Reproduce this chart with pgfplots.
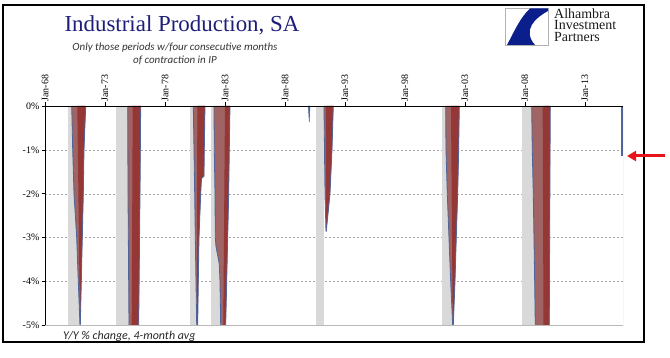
\documentclass[border=0pt]{standalone}
\usepackage{pgfplots}
\pgfplotsset{compat=1.18}
\usepackage{pgfplotstable}
\usepackage{fontspec}
\setmainfont{Liberation Serif}
\newfontfamily\calfont{Carlito}
\usetikzlibrary{arrows.meta}
\definecolor{rgray}{HTML}{D9D9D9}
\definecolor{mauve}{HTML}{A06464}
\definecolor{dred}{HTML}{953735}
\definecolor{bline}{HTML}{50649A}
\definecolor{navy}{HTML}{1E1E78}
\definecolor{logoblue}{HTML}{0A1E8C}
\definecolor{arrred}{HTML}{E8141B}

% episode outlines (x = year, y = Y/Y % change, clipped at -5)
\pgfplotstableread{
x y
1970.225 0
1970.308 -1
1970.417 -2
1970.642 -3
1970.775 -4
1970.917 -5
1970.942 -5
1971.025 -4
1971.108 -3
1971.192 -2
1971.250 -1
1971.392 0
}\epAo
\pgfplotstableread{
x y
1970.692 0
1970.917 -5
1970.942 -5
1971.025 -4
1971.108 -3
1971.192 -2
1971.250 -1
1971.392 0
}\epAd
\pgfplotstableread{
x y
1974.892 0
1974.917 -2
1975.000 -5
1975.808 -5
1975.917 -2
1975.975 0
}\epBo
\pgfplotstableread{
x y
1975.308 0
1975.225 -5
1975.808 -5
1975.917 -2
1975.975 0
}\epBd
\pgfplotstableread{
x y
1980.358 0
1980.417 -1
1980.475 -2
1980.525 -3
1980.583 -4
1980.642 -5
1980.725 -5
1980.775 -4
1980.833 -3
1980.975 -2
1981.042 -1.65
1981.250 -1.6
1981.275 -1
1981.333 0
}\epCo
\pgfplotstableread{
x y
1980.692 0
1980.667 -5
1980.725 -5
1980.775 -4
1980.833 -3
1980.975 -2
1981.042 -1.65
1981.250 -1.6
1981.275 -1
1981.333 0
}\epCd
\pgfplotstableread{
x y
1982.083 0
1982.108 -1
1982.167 -2
1982.192 -3
1982.250 -3.2
1982.525 -3.6
1982.583 -4
1982.642 -5
1983.058 -5
1983.142 -4
1983.225 -3
1983.308 -2
1983.358 -1
1983.417 0
}\epDo
\pgfplotstableread{
x y
1983.000 0
1982.858 -5
1983.058 -5
1983.142 -4
1983.225 -3
1983.308 -2
1983.358 -1
1983.417 0
}\epDd
\pgfplotstableread{
x y
1989.942 0
1990.025 -0.36
1990.083 0
}\epEa
\pgfplotstableread{
x y
1991.250 0
1991.292 -1
1991.333 -2
1991.417 -2.85
1991.442 -2.85
1991.750 -2
1991.917 -1
1992.025 0
}\epEo
\pgfplotstableread{
x y
1991.417 0
1991.417 -2.85
1991.442 -2.85
1991.750 -2
1991.917 -1
1992.025 0
}\epEd
\pgfplotstableread{
x y
2001.392 0
2001.417 -1
2001.525 -2
2001.667 -3
2001.808 -4
2001.975 -5
2002.025 -5
2002.167 -4
2002.275 -3
2002.392 -2
2002.475 -1
2002.525 0
}\epFo
\pgfplotstableread{
x y
2001.833 0
2001.975 -5
2002.025 -5
2002.167 -4
2002.275 -3
2002.392 -2
2002.475 -1
2002.525 0
}\epFd
\pgfplotstableread{
x y
2008.558 0
2008.608 -1
2008.692 -2
2008.750 -3
2008.808 -4
2008.858 -5
2010.025 -5
2010.108 0
}\epGo
\pgfplotstableread{
x y
2009.475 0
2009.542 -5
2010.025 -5
2010.108 0
}\epGd

\begin{document}
\begin{tikzpicture}
\useasboundingbox (0bp,0bp) rectangle (670bp,358bp);
\begin{axis}[
  at={(45bp,32.5bp)}, anchor=south west,
  scale only axis, width=578bp, height=219.5bp,
  xmin=1968, xmax=2016.17, ymin=-5, ymax=0,
  axis x line*=top, axis y line*=left,
  axis line style={black, line width=0.8bp, -},
  tick align=outside, major tick length=3.5bp,
  tick style={black, line width=0.6bp},
  xtick={1968,1973,1978,1983,1988,1993,1998,2003,2008,2013},
  xticklabels={Jan-68,Jan-73,Jan-78,Jan-83,Jan-88,Jan-93,Jan-98,Jan-03,Jan-08,Jan-13},
  xticklabel style={rotate=90, anchor=west, font=\fontsize{10}{12}\selectfont, inner sep=1bp},
  ytick={-5,-4,-3,-2,-1,0},
  yticklabels={-5\%,-4\%,-3\%,-2\%,-1\%,0\%},
  yticklabel style={font=\fontsize{10}{12}\selectfont, inner sep=2bp},
  ymajorgrids, grid style={gray!70, dash pattern=on 2bp off 2bp, line width=0.5bp},
  minor tick num=0,
]
% recession bars
\addplot[fill=rgray, draw=none] coordinates {(1969.92,0)(1969.92,-5)(1970.92,-5)(1970.92,0)};
\addplot[fill=rgray, draw=none] coordinates {(1973.92,0)(1973.92,-5)(1975.17,-5)(1975.17,0)};
\addplot[fill=rgray, draw=none] coordinates {(1980.08,0)(1980.08,-5)(1980.58,-5)(1980.58,0)};
\addplot[fill=rgray, draw=none] coordinates {(1981.83,0)(1981.83,-5)(1982.90,-5)(1982.90,0)};
\addplot[fill=rgray, draw=none] coordinates {(1990.56,0)(1990.56,-5)(1991.25,-5)(1991.25,0)};
\addplot[fill=rgray, draw=none] coordinates {(2001.11,0)(2001.11,-5)(2001.90,-5)(2001.90,0)};
\addplot[fill=rgray, draw=none] coordinates {(2007.78,0)(2007.78,-5)(2009.50,-5)(2009.50,0)};
% contraction areas
\addplot[fill=mauve, draw=none] table {\epAo};
\addplot[fill=dred, draw=none] table {\epAd};
\addplot[bline, line width=0.8bp] table {\epAo};
\addplot[fill=mauve, draw=none] table {\epBo};
\addplot[fill=dred, draw=none] table {\epBd};
\addplot[bline, line width=0.8bp] table {\epBo};
\addplot[fill=mauve, draw=none] table {\epCo};
\addplot[fill=dred, draw=none] table {\epCd};
\addplot[bline, line width=0.8bp] table {\epCo};
\addplot[fill=mauve, draw=none] table {\epDo};
\addplot[fill=dred, draw=none] table {\epDd};
\addplot[bline, line width=0.8bp] table {\epDo};
\addplot[fill=mauve, draw=none] table {\epEo};
\addplot[fill=dred, draw=none] table {\epEd};
\addplot[bline, line width=0.8bp] table {\epEo};
\addplot[fill=mauve, draw=none] table {\epFo};
\addplot[fill=dred, draw=none] table {\epFd};
\addplot[bline, line width=0.8bp] table {\epFo};
\addplot[fill=mauve, draw=none] table {\epGo};
\addplot[fill=dred, draw=none] table {\epGd};
\addplot[bline, line width=0.8bp] table {\epGo};
\addplot[fill=bline, draw=bline, line width=0.5bp] table {\epEa};
% latest reading
\addplot[bline, line width=1.5bp] coordinates {(2016.10,0)(2016.10,-1.15)};
% borders
\draw[gray!55, line width=0.8bp] (rel axis cs:0,0) -- (rel axis cs:1,0) -- (rel axis cs:1,1);
\draw[black, line width=0.8bp] (rel axis cs:0,1) -- (rel axis cs:1,1);
\end{axis}
\begin{scope}[x=1bp,y=1bp]
% frame
\draw[black, line width=1.2bp] (3,16) rectangle (644,353);
% title
\node[anchor=base, text=navy, font=\fontsize{23}{26}\selectfont] at (182,327) {Industrial Production, SA};
\node[anchor=base, text=black!80, font=\calfont\itshape\fontsize{11}{13}\selectfont] at (175,308) {Only those periods w/four consecutive months};
\node[anchor=base, text=black!80, font=\calfont\itshape\fontsize{11}{13}\selectfont] at (175,295) {of contraction in IP};
% footnote
\node[anchor=base west, inner sep=0, text=black!85, font=\calfont\itshape\fontsize{12}{14}\selectfont] at (63,19) {Y/Y \% change, 4-month avg};
% logo
\draw[gray!60, line width=0.6bp] (505,313) rectangle (548,350);
\fill[logoblue] (530,349.5) -- (548,349.5) -- (548,347) .. controls (535,340) and (522,328) .. (535,313) -- (507,313) .. controls (515,328) and (520,340) .. (530,349.5) -- cycle;
\node[anchor=north west, inner sep=0, text=black!90, align=left, font=\fontsize{14}{11.5}\selectfont] at (554,349.5) {Alhambra\\Investment\\Partners};
% arrow
\draw[arrred, line width=3bp, -{Triangle[length=9bp,width=10bp]}] (665,202) -- (627,202);
\end{scope}
\end{tikzpicture}
\end{document}
